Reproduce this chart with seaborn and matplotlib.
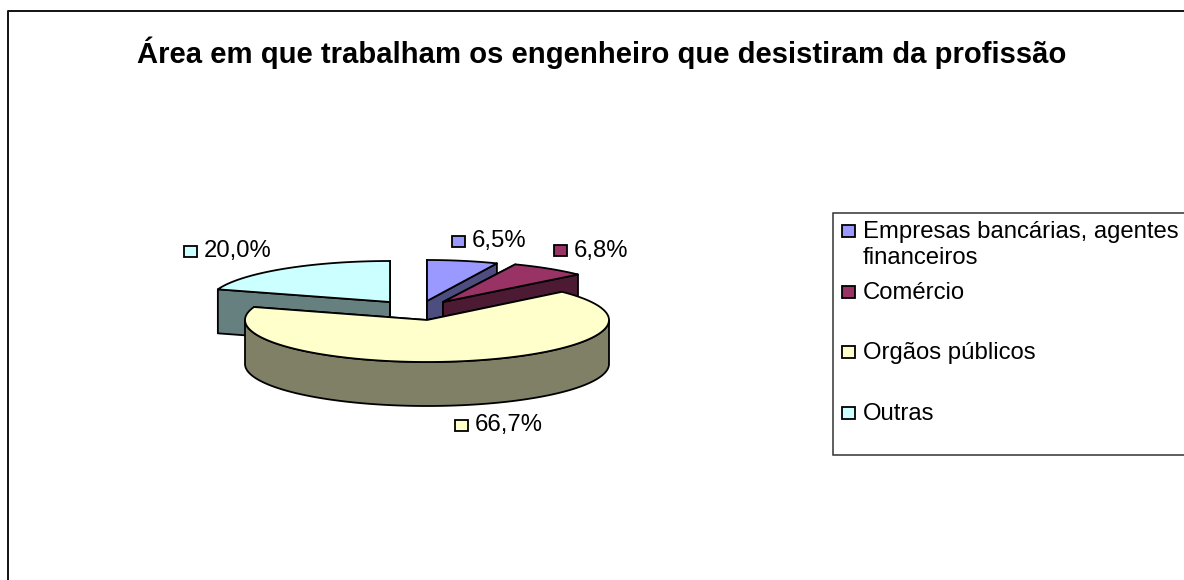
import numpy as np
import matplotlib
matplotlib.use("Agg")
import matplotlib.pyplot as plt
from matplotlib.patches import Polygon, Rectangle
import seaborn as sns

# ---- data ----
categories = ["Empresas bancárias, agentes\nfinanceiros", "Comércio", "Orgãos públicos", "Outras"]
values = [6.5, 6.8, 66.7, 20.0]
value_labels = ["6,5%", "6,8%", "66,7%", "20,0%"]
colors = ["#9999FF", "#993366", "#FFFFCC", "#CCFFFF"]
title = "Área em que trabalham os engenheiro que desistiram da profissão"

# ---- layout (pixels of the 1184x580 canvas) ----
apex = [(427, 301), (443, 302), (427, 320), (390, 302)]
radius_x = [176, 182, 182, 181]
radius_y = [41, 41, 42, 41]
depth = [44, 44, 44, 44]
label_pos = [(458, 241), (560, 250), (461, 425), (190, 251)]
legend_y = [231, 292, 352, 413]

sns.set_theme(style="white")
plt.rcParams["font.family"] = ["Liberation Sans", "DejaVu Sans"]
palette = sns.color_palette(colors)

fig = plt.figure(figsize=(11.84, 5.8), dpi=100)
ax = fig.add_axes([0, 0, 1, 1])
ax.set_xlim(0, 1184)
ax.set_ylim(580, 0)
ax.axis("off")

# chart frame
ax.plot([8, 8, 1184], [580, 11, 11], color="#111111", lw=1.4)

ax.text(602, 53, title, ha="center", va="center", fontsize=21.1, fontweight="bold", color="black")

shares = np.array(values) / np.sum(values)
edges = np.concatenate([[0], np.cumsum(shares)]) * 2 * np.pi
edge_kw = dict(edgecolor="black", linewidth=1.3, joinstyle="round")


def wedge(i):
    t = np.linspace(edges[i], edges[i + 1], 120)
    cx, cy = apex[i]
    return cx, cy, cx + radius_x[i] * np.sin(t), cy - radius_y[i] * np.cos(t)


for i in [3, 0, 1, 2]:
    cx, cy, xs, ys = wedge(i)
    dark = tuple(c * 0.5 for c in palette[i])
    d = depth[i]
    # cut faces
    for px, py in [(xs[0], ys[0]), (xs[-1], ys[-1])]:
        ax.add_patch(Polygon([(cx, cy), (px, py), (px, py + d), (cx, cy + d)],
                             facecolor=dark, **edge_kw))
    # outer rim (front-facing part only)
    front = np.cos(np.linspace(edges[i], edges[i + 1], 120)) <= 0
    if front.any():
        fx, fy = xs[front], ys[front]
        ax.add_patch(Polygon(np.column_stack([np.r_[fx, fx[::-1]], np.r_[fy, fy[::-1] + d]]),
                             facecolor=dark, **edge_kw))
    # top surface
    ax.add_patch(Polygon(np.column_stack([np.r_[cx, xs], np.r_[cy, ys]]),
                         facecolor=palette[i], **edge_kw))

# data labels
for (x, y), txt, c in zip(label_pos, value_labels, palette):
    ax.add_patch(Rectangle((x - 6.5, y - 5.5), 13, 11, facecolor=c, edgecolor="black", linewidth=1.3))
    ax.text(x + 14, y + 0.5, txt, ha="left", va="center", fontsize=17.2, color="black")

# legend
ax.add_patch(Rectangle((833, 213), 400, 242, facecolor="white", edgecolor="#333333", linewidth=1.1))
for y, name, c in zip(legend_y, categories, palette):
    ax.add_patch(Rectangle((841.5, y - 6), 13, 12, facecolor=c, edgecolor="black", linewidth=1.3))
    ax.text(863, y - 10, name, ha="left", va="top", fontsize=17.2, color="black", linespacing=1.23)

fig.savefig("out.png", dpi=100, facecolor="white")
